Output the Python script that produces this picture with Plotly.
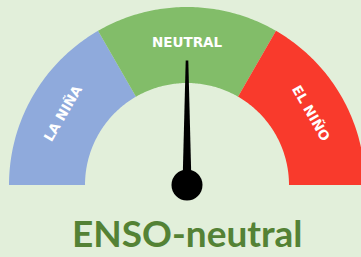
import numpy as np
import plotly.graph_objects as go

# ---- data ----
categories = ["LA NIÑA", "NEUTRAL", "EL NIÑO"]
thresholds = [-1.5, -0.5, 0.5, 1.5]          # ONI scale edges of each zone
seg_colors = ["#8FAADC", "#82BD69", "#F93A2C"]
needle_value = 0.0
title_text = "ENSO-neutral"

# ---- geometry (layout constants) ----
R_OUT = 1.0
R_IN = 0.573
PX = 178.0          # pixels per unit
CX, CY = 187.0, 185.0
W, H = 361, 257
vmin, vmax = thresholds[0], thresholds[-1]


def val2ang(v):
    return np.pi - (v - vmin) / (vmax - vmin) * np.pi


fig = go.Figure()

for i, name in enumerate(categories):
    a0, a1 = val2ang(thresholds[i]), val2ang(thresholds[i + 1])
    t = np.linspace(a0, a1, 80)
    xs = np.concatenate([R_OUT * np.cos(t), R_IN * np.cos(t[::-1])])
    ys = np.concatenate([R_OUT * np.sin(t), R_IN * np.sin(t[::-1])])
    fig.add_trace(go.Scatter(x=xs, y=ys, fill="toself", fillcolor=seg_colors[i],
                             mode="none", hoverinfo="skip", name=name))
    am = (a0 + a1) / 2
    rl = 0.805
    fig.add_annotation(x=rl * np.cos(am), y=rl * np.sin(am), text="<b>%s</b>" % name,
                       showarrow=False, textangle=90 - np.degrees(am),
                       font=dict(family="DejaVu Sans", size=13.5, color="white"),
                       xanchor="center", yanchor="middle")

# needle
a = val2ang(needle_value)
L = 0.70
hw0, hw1 = 4.5 / PX, 1.3 / PX
ux, uy = np.cos(a), np.sin(a)
px_, py_ = -uy, ux
nx = [hw0 * px_, L * ux + hw1 * px_, L * ux - hw1 * px_, -hw0 * px_]
ny = [hw0 * py_, L * uy + hw1 * py_, L * uy - hw1 * py_, -hw0 * py_]
fig.add_trace(go.Scatter(x=nx, y=ny, fill="toself", fillcolor="black", mode="none",
                         hoverinfo="skip"))
fig.add_trace(go.Scatter(x=[0], y=[0], mode="markers",
                         marker=dict(size=31, color="black"), hoverinfo="skip"))

fig.add_annotation(x=0, y=-(H - CY) / PX, text="<b>%s</b>" % title_text, showarrow=False,
                   font=dict(family="Lato", size=37, color="#548235"),
                   xanchor="center", yanchor="bottom", yshift=0.5)

fig.update_xaxes(range=[-CX / PX, (W - CX) / PX], visible=False, fixedrange=True)
fig.update_yaxes(range=[-(H - CY) / PX, CY / PX], visible=False, fixedrange=True)
fig.update_layout(width=W, height=H, margin=dict(l=0, r=0, t=0, b=0),
                  paper_bgcolor="#E2EFDA", plot_bgcolor="#E2EFDA", showlegend=False)

fig.write_html("out.html", config={"displayModeBar": False},
               post_script="document.body.style.margin='0';document.body.style.overflow='hidden';")
